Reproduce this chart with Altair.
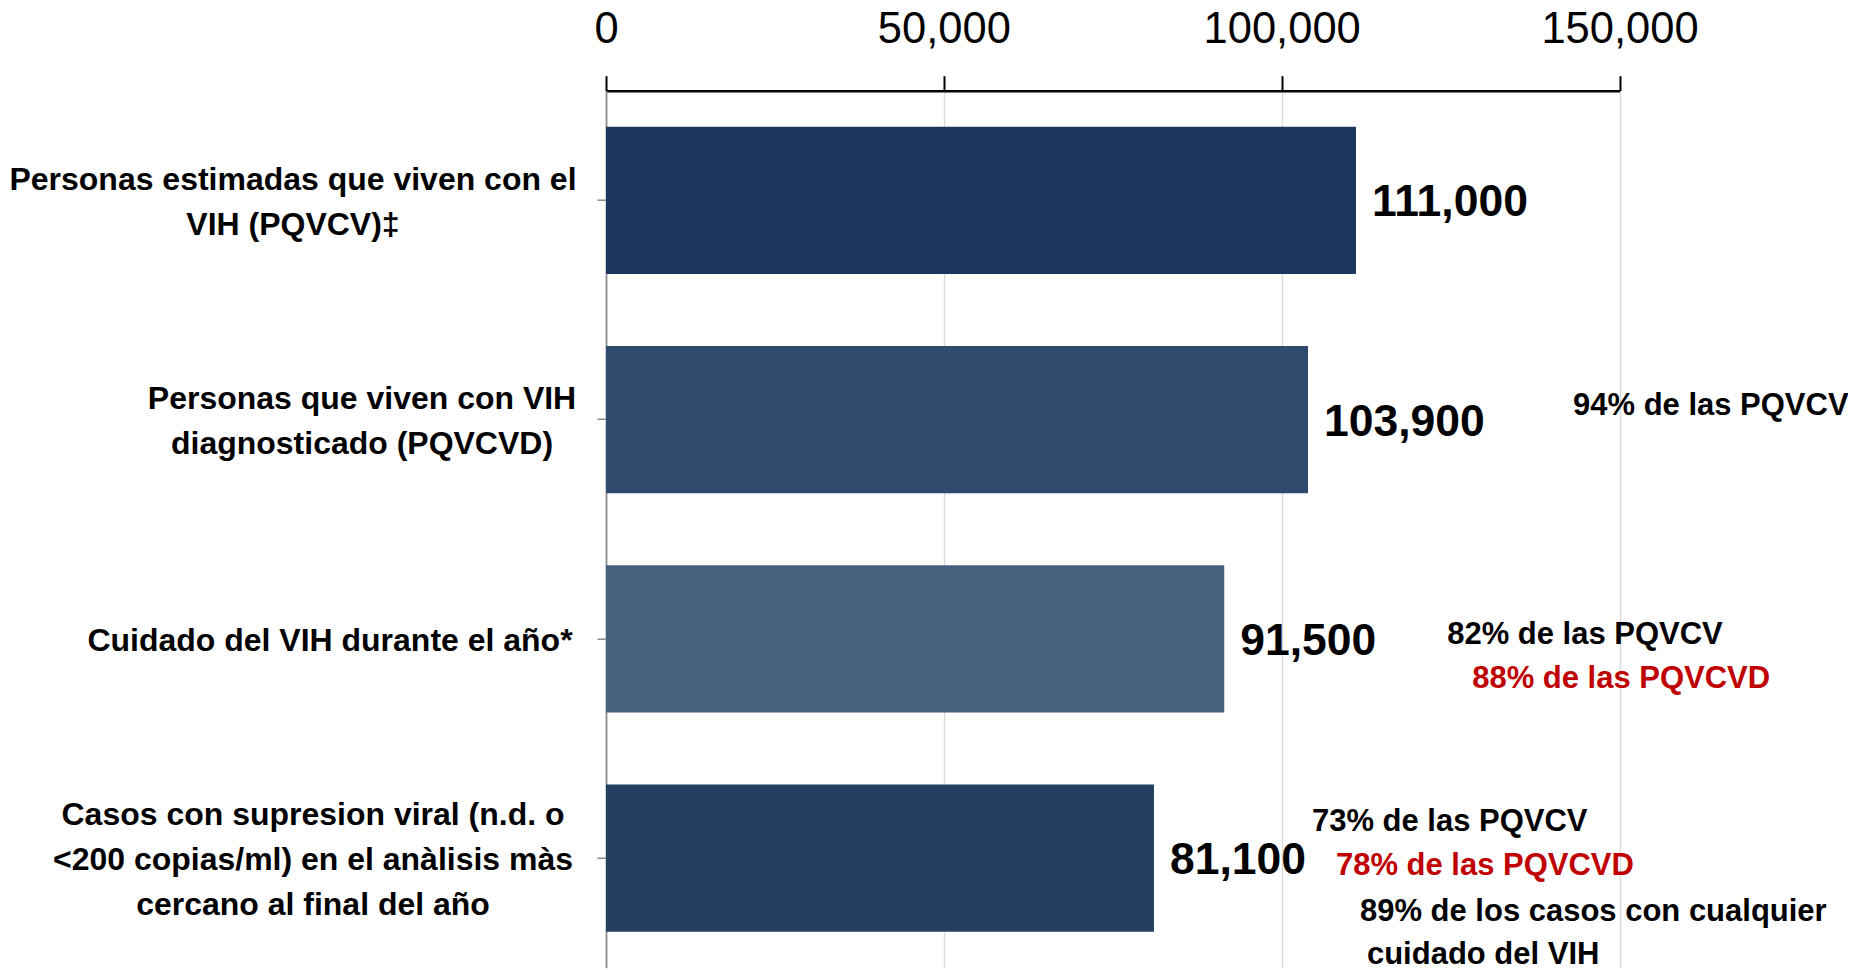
import altair as alt
import pandas as pd

# ---- data ----
categories = [
    "Personas estimadas que viven con el\nVIH (PQVCV)‡",
    "Personas que viven con VIH\ndiagnosticado (PQVCVD)",
    "Cuidado del VIH durante el año*",
    "Casos con supresion viral (n.d. o\n<200 copias/ml) en el anàlisis màs\ncercano al final del año",
]
values = [111000, 103900, 91500, 81100]
bar_colors = ["#1B375D", "#2E4A6C", "#46607E", "#253F60"]

ann_texts = [
    "94% de las PQVCV",
    "82% de las PQVCV",
    "88% de las PQVCVD",
    "73% de las PQVCV",
    "78% de las PQVCVD",
    "89% de los casos con cualquier",
    "cuidado del VIH",
]
ann_bar = [1, 2, 2, 3, 3, 3, 3]
ann_colors = ["#000000", "#000000", "#C00000", "#000000", "#C00000", "#000000", "#000000"]

# ---- layout (pixel offsets) ----
ann_dx = [265, 223, 248, 158, 182, 206, 213]
ann_dy = [-14, -4, 40, -36, 8, 54, 97]
label_dx = [-313, -244, -276, -293]   # centre of each category label relative to x=0
LABEL_LH = 45

FONT = "Liberation Sans"

df = pd.DataFrame({"cat": categories, "value": values})

y_enc = alt.Y(
    "cat:N",
    sort=None,
    scale=alt.Scale(domain=categories, paddingInner=0.328, paddingOuter=0.164),
    axis=alt.Axis(
        title=None,
        orient="left",
        labels=False,
        tickSize=9,
        tickColor="#898989",
        tickWidth=1.5,
        domainColor="#898989",
        domainWidth=1.7,
        grid=False,
    ),
)

x_enc = alt.X(
    "value:Q",
    scale=alt.Scale(domain=[0, 150000], nice=False),
    axis=alt.Axis(
        title=None,
        orient="top",
        values=[0, 50000, 100000, 150000],
        format=",d",
        labelFont=FONT,
        labelFontSize=43.5,
        labelColor="#000000",
        labelFlush=False,
        labelOverlap=False,
        labelBaseline="alphabetic",
        labelPadding=33,
        tickSize=15,
        tickColor="#000000",
        tickWidth=2,
        domainColor="#000000",
        domainWidth=2.5,
        grid=True,
        gridColor="#D9D9D9",
        gridWidth=1.3,
    ),
)

bars = alt.Chart(df).mark_bar().encode(
    x=x_enc,
    y=y_enc,
    color=alt.Color("cat:N", scale=alt.Scale(domain=categories, range=bar_colors), legend=None),
)

value_labels = alt.Chart(df).mark_text(
    align="left", baseline="middle", dx=16, dy=3, font=FONT, fontSize=44.5,
    fontWeight="bold", color="#000000",
).encode(
    x="value:Q",
    y=alt.Y("cat:N", sort=None),
    text=alt.Text("value:Q", format=",d"),
)

layers = [bars, value_labels]

# category labels (right-hand block, lines centred)
for cat, ldx in zip(categories, label_dx):
    n_lines = cat.count("\n") + 1
    cdf = pd.DataFrame({"cat": [cat]})
    layers.append(
        alt.Chart(cdf).mark_text(
            align="center", baseline="middle", lineBreak="\n", lineHeight=LABEL_LH,
            dx=ldx, dy=-(n_lines - 1) * LABEL_LH / 2 + 2,
            font=FONT, fontSize=32, fontWeight="bold", color="#000000",
        ).encode(
            x=alt.datum(0),
            y=alt.Y("cat:N", sort=None),
            text="cat:N",
        )
    )

# percentage annotations
for t, b, c, dx, dy in zip(ann_texts, ann_bar, ann_colors, ann_dx, ann_dy):
    adf = pd.DataFrame({"cat": [categories[b]], "value": [values[b]], "label": [t]})
    layers.append(
        alt.Chart(adf).mark_text(
            align="left", baseline="middle", dx=dx, dy=dy, font=FONT,
            fontSize=31, fontWeight="bold", color=c,
        ).encode(
            x="value:Q",
            y=alt.Y("cat:N", sort=None),
            text="label:N",
        )
    )

chart = alt.layer(*layers).properties(
    width=1013.5,
    height=877,
    autosize=alt.AutoSizeParams(type="none"),
    padding={"left": 598, "top": 82.7, "right": 228, "bottom": 6},
    background="#FFFFFF",
).configure_view(stroke=None)

chart.save("out.html", embed_options={"renderer": "svg", "actions": False})
